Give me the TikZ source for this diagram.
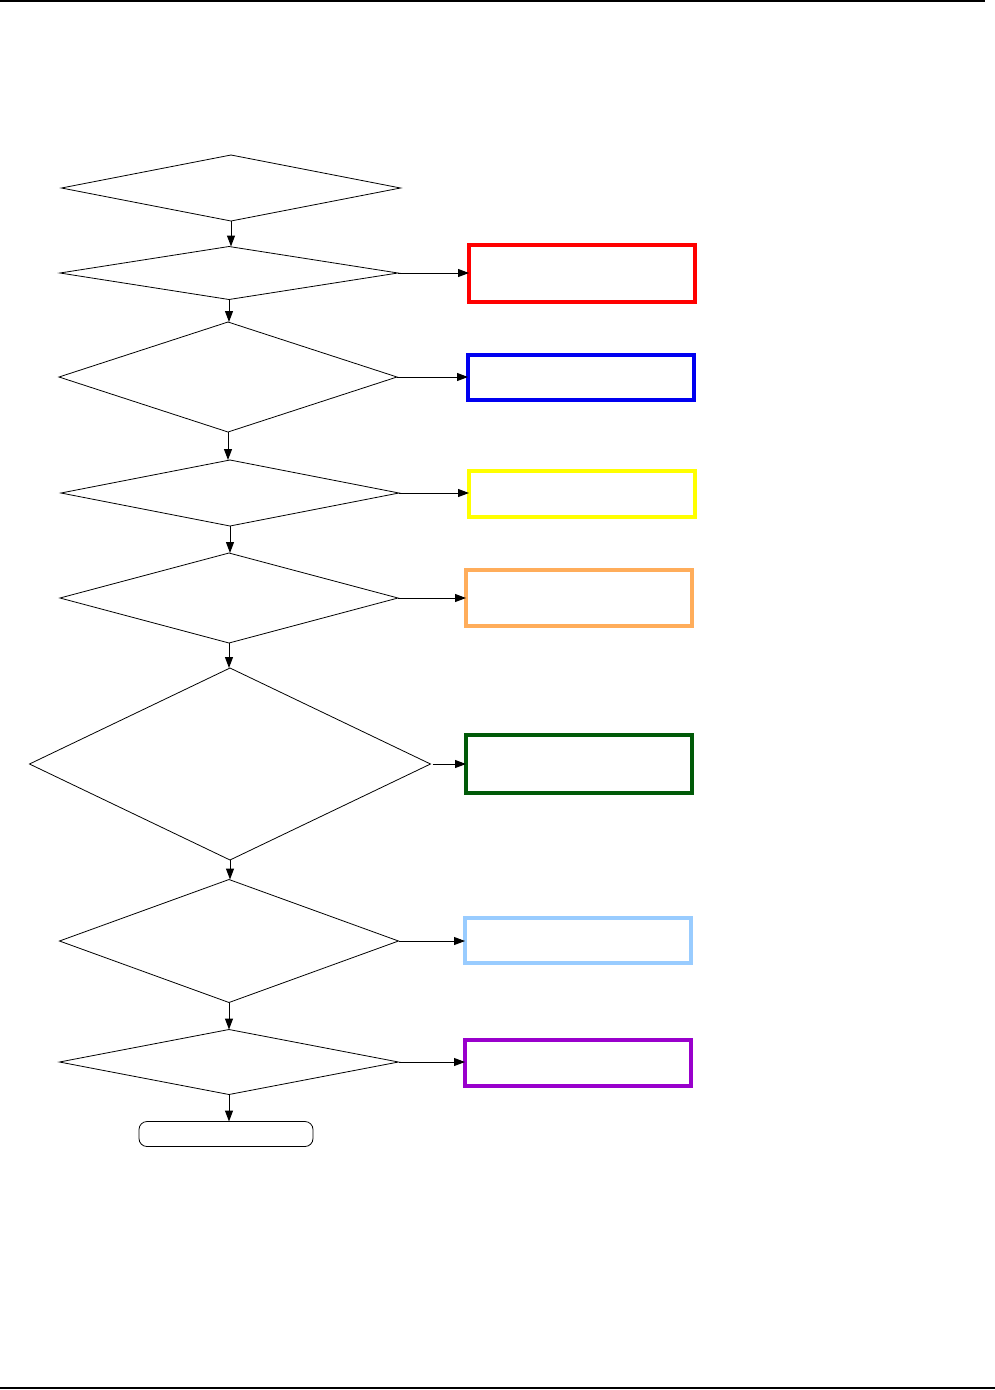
\documentclass[tikz,border=0pt]{standalone}
\usetikzlibrary{shapes.geometric,arrows.meta}
\definecolor{cred}{HTML}{FF0000}
\definecolor{cblue}{HTML}{0000F0}
\definecolor{cyellow}{HTML}{FFFF00}
\definecolor{corange}{HTML}{FFAD5B}
\definecolor{cgreen}{HTML}{005A08}
\definecolor{clblue}{HTML}{99CCFF}
\definecolor{cpurple}{HTML}{9900CC}
\tikzset{
  dec/.style={diamond, draw=black, line width=0.8pt, inner sep=0pt, outer sep=0pt},
  outbox/.style={rectangle, draw, line width=3.4pt, inner sep=0pt, outer sep=0pt, minimum width=226pt},
  arr/.style={line width=1pt, -{Triangle[length=11pt,width=8pt]}},
  term/.style={rectangle, rounded corners=8pt, draw, line width=0.8pt, inner sep=0pt, outer sep=0pt, minimum width=174pt, minimum height=25pt},
  rule/.style={line width=1.4pt}
}
\begin{document}
\begin{tikzpicture}[x=1pt,y=-1pt]
\useasboundingbox (0,0) rectangle (995,1390);
% page rules
\draw[rule] (0,1) -- (985,1);
\draw[rule] (0,1388) -- (995,1388);
% decisions
\node[dec, minimum width=339pt, minimum height=66pt] (d1) at (231,188) {};
\node[dec, minimum width=338pt, minimum height=53pt] (d2) at (229,273) {};
\node[dec, minimum width=338pt, minimum height=110pt] (d3) at (228,377) {};
\node[dec, minimum width=338pt, minimum height=66pt] (d4) at (230,493) {};
\node[dec, minimum width=338pt, minimum height=90pt] (d5) at (229,598) {};
\node[dec, minimum width=401pt, minimum height=192pt] (d6) at (230,764) {};
\node[dec, minimum width=339pt, minimum height=123pt] (d7) at (229,941) {};
\node[dec, minimum width=339pt, minimum height=65pt] (d8) at (229,1062) {};
\node[term] (t) at (226,1134) {};
% coloured boxes
\node[outbox, draw=cred, minimum height=57pt] (b1) at (582,273.5) {};
\node[outbox, draw=cblue, minimum height=45pt] (b2) at (581,377.5) {};
\node[outbox, draw=cyellow, minimum height=46pt] (b3) at (582,494) {};
\node[outbox, draw=corange, minimum height=56pt] (b4) at (579,598) {};
\node[outbox, draw=cgreen, minimum height=58pt] (b5) at (579,764) {};
\node[outbox, draw=clblue, minimum height=45pt] (b6) at (578,940.5) {};
\node[outbox, draw=cpurple, minimum height=46pt] (b7) at (578,1063) {};
% vertical flow
\draw[arr] (d1.south) -- (d1.south |- d2.north);
\draw[arr] (d2.south) -- (d2.south |- d3.north);
\draw[arr] (d3.south) -- (d3.south |- d4.north);
\draw[arr] (d4.south) -- (d4.south |- d5.north);
\draw[arr] (d5.south) -- (d5.south |- d6.north);
\draw[arr] (d6.south) -- (d6.south |- d7.north);
\draw[arr] (d7.south) -- (d7.south |- d8.north);
\draw[arr] (d8.south) -- (d8.south |- t.north);
% side branches
\draw[arr] (d2.east) -- (d2.east -| b1.west);
\draw[arr] (d3.east) -- (d3.east -| b2.west);
\draw[arr] (d4.east) -- (d4.east -| b3.west);
\draw[arr] (d5.east) -- (d5.east -| b4.west);
\draw[arr, shorten <=2pt] (d6.east) -- (d6.east -| b5.west);
\draw[arr] (d7.east) -- (d7.east -| b6.west);
\draw[arr] (d8.east) -- (d8.east -| b7.west);
\end{tikzpicture}
\end{document}
